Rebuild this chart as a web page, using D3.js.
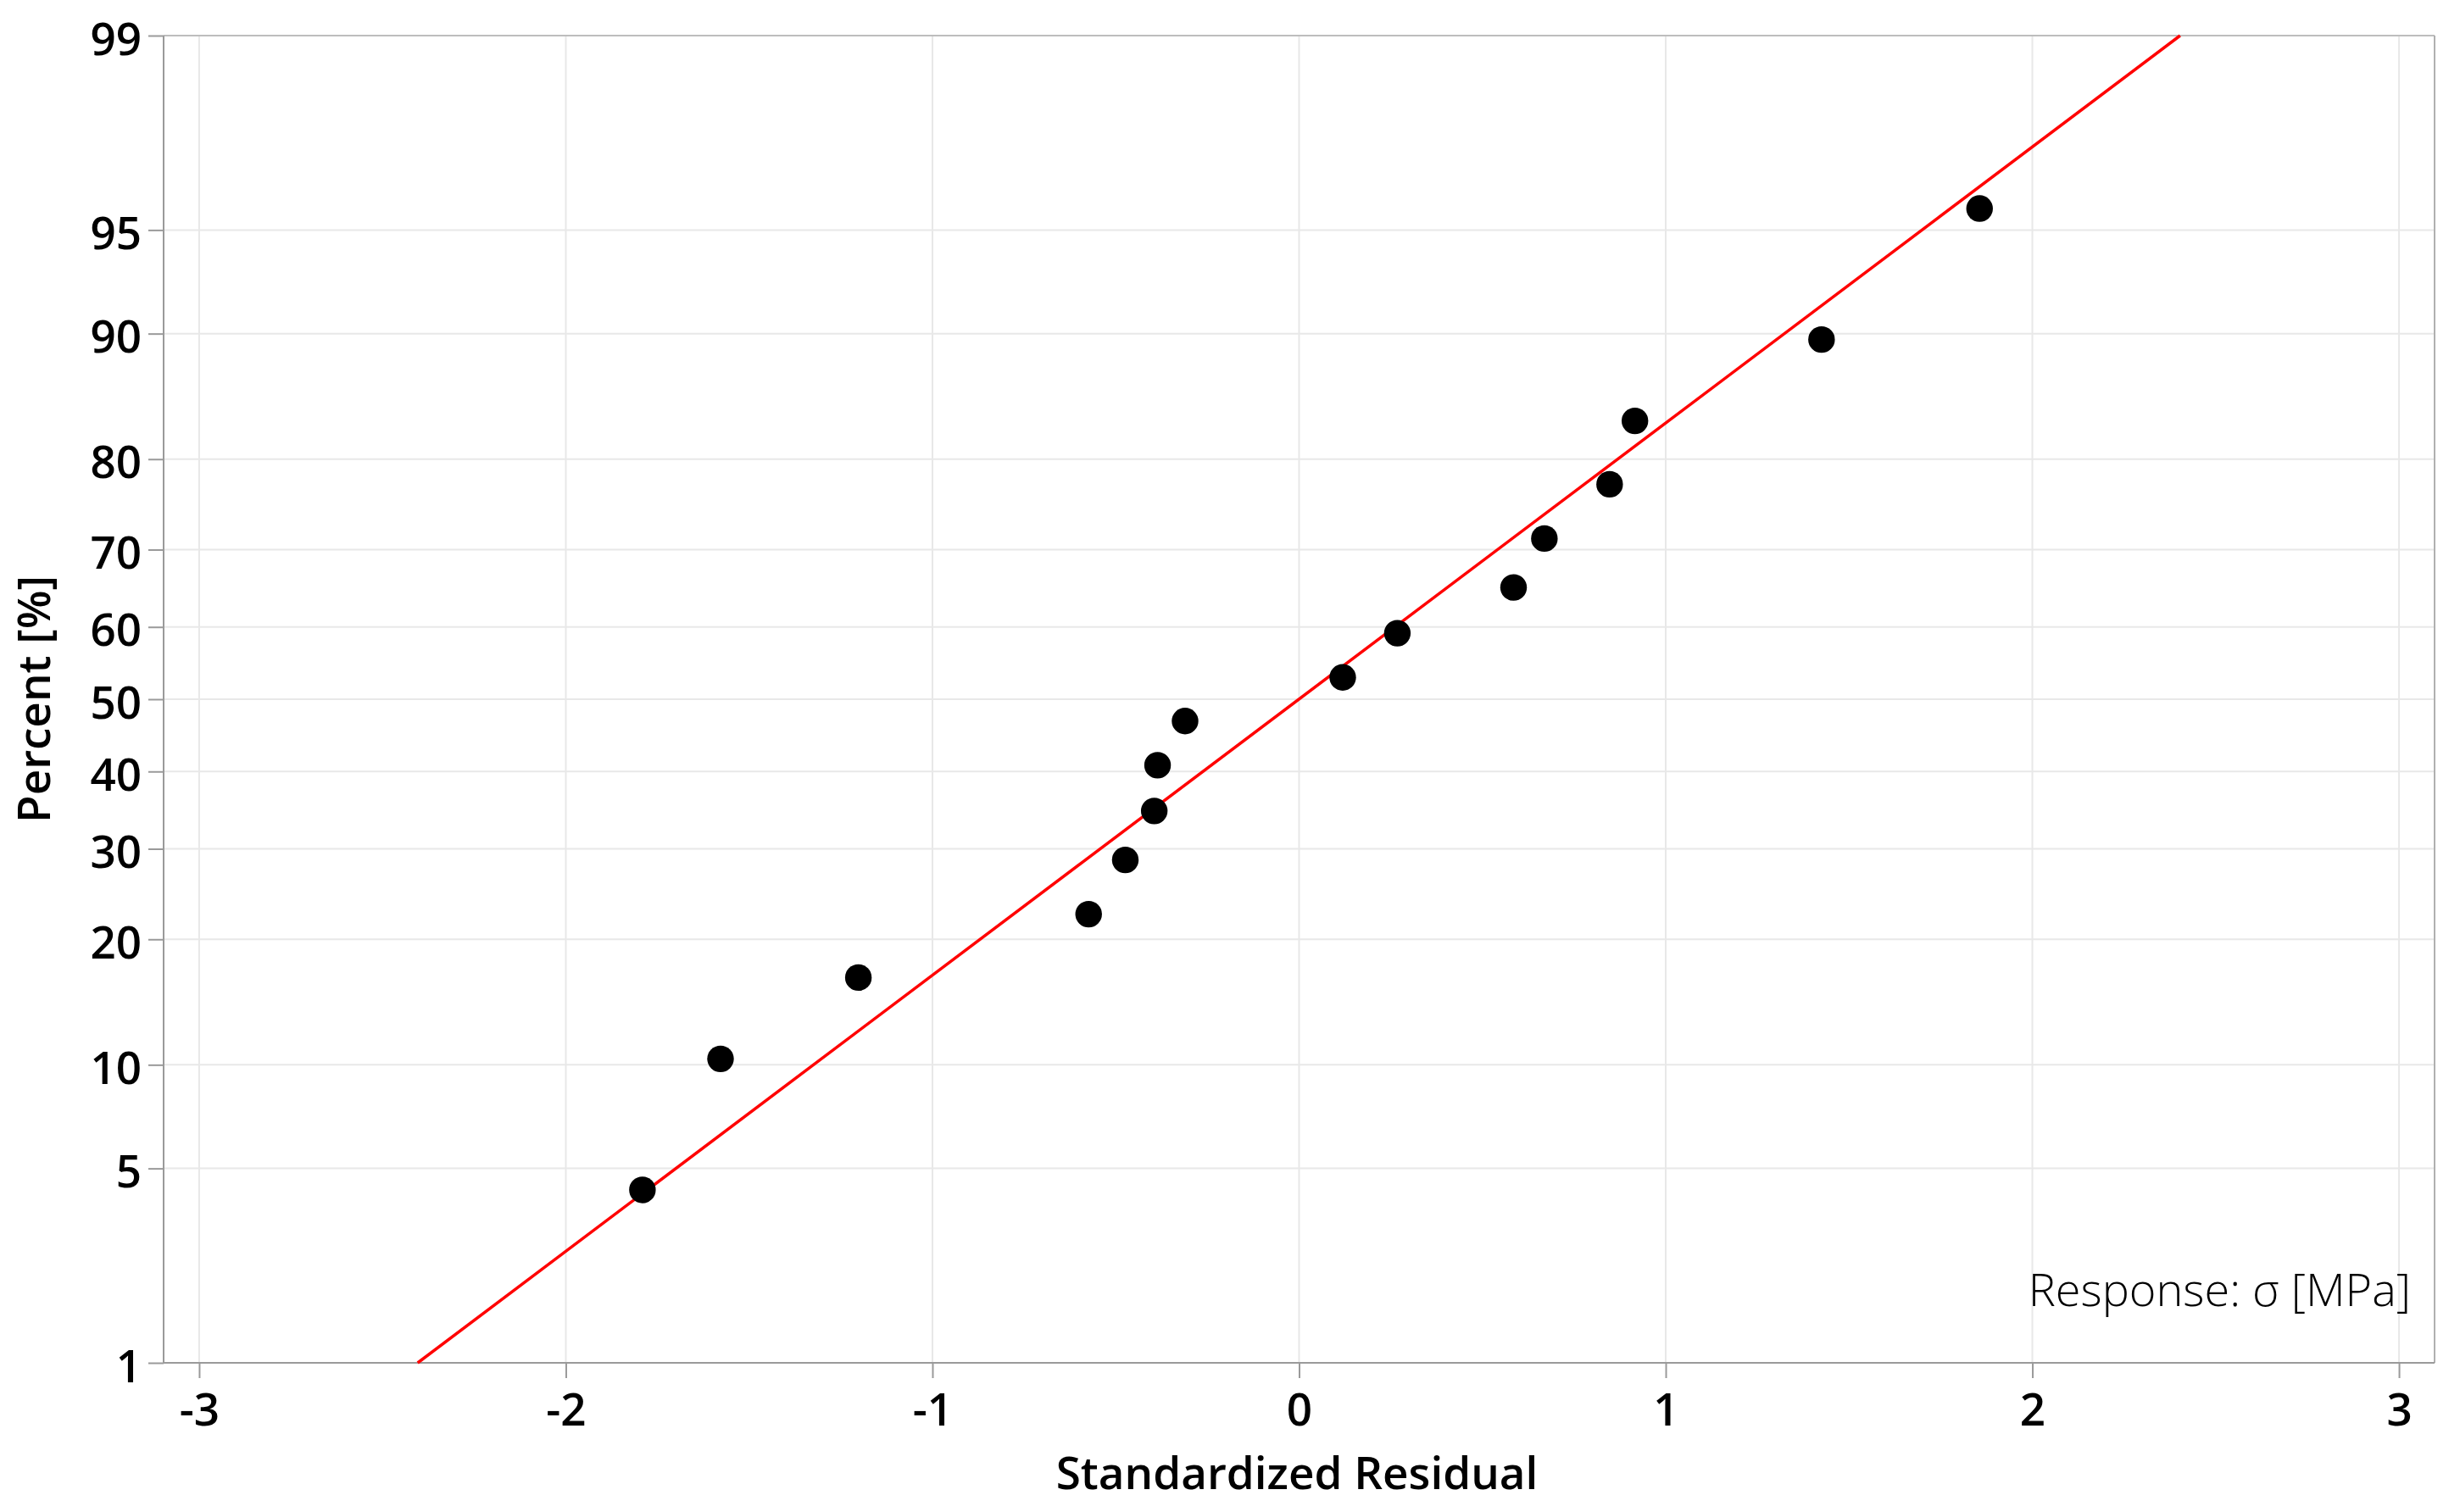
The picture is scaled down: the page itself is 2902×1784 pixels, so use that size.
<!DOCTYPE html>
<html><head><meta charset="utf-8">
<script src="https://cdn.jsdelivr.net/npm/d3@7"></script>
<style>
body{margin:0;background:#fff}
text{font-family:"Open Sans","Noto Sans",sans-serif;fill:#000}
</style>
</head><body><svg id="chart" width="2902" height="1784"></svg>
<script>
// ---- data ----
const residuals = [-1.791,-1.578,-1.202,-0.574,-0.474,-0.395,-0.386,-0.311,0.119,0.268,0.585,0.669,0.847,0.916,1.425,1.856];
const percents  = [4.27,10.37,16.46,22.56,28.66,34.76,40.85,46.95,53.05,59.15,65.24,71.34,77.44,83.54,89.63,95.73];
const fitResidual = [-2.404, 2.403];
const fitPercent  = [1, 99];
const xTicks = [-3,-2,-1,0,1,2,3];
const yTicks = [1,5,10,20,30,40,50,60,70,80,90,95,99];
const xTitle = "Standardized Residual";
const yTitle = "Percent [%]";
const note = "Response: σ [MPa]";

// inverse standard normal CDF (Acklam) used as the probability-scale transform
function probit(p){
  const a=[-3.969683028665376e+01,2.209460984245205e+02,-2.759285104469687e+02,1.383577518672690e+02,-3.066479806614716e+01,2.506628277459239e+00];
  const b=[-5.447609879822406e+01,1.615858368580409e+02,-1.556989798598866e+02,6.680131188771972e+01,-1.328068155288572e+01];
  const c=[-7.784894002430293e-03,-3.223964580411365e-01,-2.400758277161838e+00,-2.549732539343734e+00,4.374664141464968e+00,2.938163982698783e+00];
  const d=[7.784695709041462e-03,3.224671290700398e-01,2.445134137142996e+00,3.754408661907416e+00];
  const pl=0.02425, ph=1-pl; let q,r;
  if(p<pl){q=Math.sqrt(-2*Math.log(p));return (((((c[0]*q+c[1])*q+c[2])*q+c[3])*q+c[4])*q+c[5])/((((d[0]*q+d[1])*q+d[2])*q+d[3])*q+1);}
  if(p>ph){q=Math.sqrt(-2*Math.log(1-p));return -(((((c[0]*q+c[1])*q+c[2])*q+c[3])*q+c[4])*q+c[5])/((((d[0]*q+d[1])*q+d[2])*q+d[3])*q+1);}
  q=p-0.5;r=q*q;return (((((a[0]*r+a[1])*r+a[2])*r+a[3])*r+a[4])*r+a[5])*q/(((((b[0]*r+b[1])*r+b[2])*r+b[3])*r+b[4])*r+1);
}

const L=193, R=2872, T=42, B=1608;
const svg = d3.select("#chart");
const x = d3.scaleLinear().domain([-3.097, 3.097]).range([L, R]);
const yz = d3.scaleLinear().domain([probit(0.01), probit(0.99)]).range([B, T]);
const y = p => yz(probit(p/100));

// gridlines
svg.append("g").selectAll("line").data(xTicks).join("line")
  .attr("x1", d=>x(d)).attr("x2", d=>x(d)).attr("y1", T).attr("y2", B)
  .attr("stroke", "#e8e8e8").attr("stroke-width", 2);
svg.append("g").selectAll("line").data(yTicks).join("line")
  .attr("x1", L).attr("x2", R).attr("y1", d=>y(d)).attr("y2", d=>y(d))
  .attr("stroke", "#e8e8e8").attr("stroke-width", 2);

// frame
svg.append("line").attr("x1",L).attr("x2",R).attr("y1",T).attr("y2",T).attr("stroke","#bdbdbd").attr("stroke-width",2);
svg.append("line").attr("x1",R).attr("x2",R).attr("y1",T).attr("y2",B).attr("stroke","#b0b0b0").attr("stroke-width",2);

// axes
const xAxis = d3.axisBottom(x).tickValues(xTicks).tickSize(18).tickPadding(0).tickFormat(d=>d);
const gx = svg.append("g").attr("transform", `translate(0,${B})`).call(xAxis);
gx.select(".domain").attr("stroke","#9a9a9a").attr("stroke-width",2).attr("d", `M${L},0H${R}`);
gx.selectAll(".tick line").attr("stroke","#9a9a9a").attr("stroke-width",2);
gx.selectAll(".tick text").attr("y", 74).attr("dy", null).attr("font-size", 53).attr("font-weight", 600)
  .style("font-family", '"Open Sans","Noto Sans",sans-serif').attr("fill","#000");

const yAxis = d3.axisLeft(yz).tickValues(yTicks.map(p=>probit(p/100))).tickSize(18).tickPadding(0)
  .tickFormat((d,i)=>yTicks[i]);
const gy = svg.append("g").attr("transform", `translate(${L},0)`).call(yAxis);
gy.select(".domain").attr("stroke","#9a9a9a").attr("stroke-width",2).attr("d", `M0,${T}V${B}`);
gy.selectAll(".tick line").attr("stroke","#9a9a9a").attr("stroke-width",2);
gy.selectAll(".tick text").attr("x", -26).attr("dy", null).attr("y", 22).attr("font-size", 53).attr("font-weight", 600)
  .style("font-family", '"Open Sans","Noto Sans",sans-serif').attr("fill","#000");

// fit line
const line = d3.line().x(d=>x(d[0])).y(d=>y(d[1]));
svg.append("path").datum(d3.zip(fitResidual, fitPercent)).attr("d", line)
  .attr("fill","none").attr("stroke","#ff0000").attr("stroke-width",3.5);

// points
svg.append("g").selectAll("circle").data(d3.zip(residuals, percents)).join("circle")
  .attr("cx", d=>x(d[0])).attr("cy", d=>y(d[1])).attr("r", 15.7).attr("fill","#000");

// titles
svg.append("text").attr("x", 1530).attr("y", 1757).attr("text-anchor","middle")
  .attr("font-size", 53).attr("font-weight", 600).text(xTitle);
svg.append("text").attr("transform","translate(59,825) rotate(-90)").attr("text-anchor","middle")
  .attr("font-size", 53).attr("font-weight", 600).text(yTitle);
svg.append("text").attr("x", 2844).attr("y", 1541).attr("text-anchor","end")
  .attr("font-size", 54).attr("font-weight", 300).text(note);
</script>
</body></html>
